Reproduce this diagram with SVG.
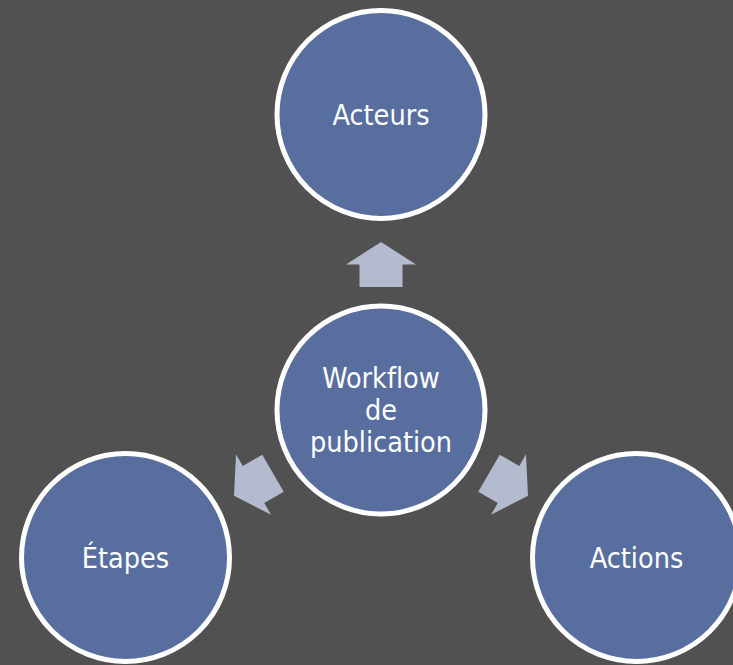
<svg xmlns="http://www.w3.org/2000/svg" width="733" height="665" viewBox="0 0 733 665">
<defs>
<style>
.node circle{fill:#586e9e;stroke:#ffffff;stroke-width:5}
.node text{fill:#ffffff;font-family:"DejaVu Sans Condensed","DejaVu Sans","Liberation Sans",sans-serif;font-stretch:condensed;font-size:28.5px;text-anchor:middle;font-variant-ligatures:none}
.arrow{fill:#b5bbcf}
</style>
<path id="arr" d="M0,-22.5 L35,0 L21.5,0 L21.5,22.5 L-21.5,22.5 L-21.5,0 L-35,0 Z"/>
</defs>
<rect width="733" height="665" fill="#515151"/>
<g id="connectors">
<use href="#arr" class="arrow" transform="translate(381,264.5)"/>
<use href="#arr" class="arrow" transform="translate(253.5,484.5) rotate(-120)"/>
<use href="#arr" class="arrow" transform="translate(508.5,484.5) rotate(120)"/>
</g>
<g id="node-acteurs" class="node">
<circle cx="381" cy="114.5" r="104"/>
<text x="381" y="125">Acteurs</text>
</g>
<g id="node-workflow" class="node">
<circle cx="381" cy="410" r="104"/>
<text x="381" y="388">Workflow</text>
<text x="381" y="420">de</text>
<text x="381" y="451.5">publication</text>
</g>
<g id="node-etapes" class="node">
<circle cx="125.5" cy="557.5" r="104"/>
<text x="125.5" y="568">Étapes</text>
</g>
<g id="node-actions" class="node">
<circle cx="636.5" cy="557.5" r="104"/>
<text x="636.5" y="568">Actions</text>
</g>
</svg>
